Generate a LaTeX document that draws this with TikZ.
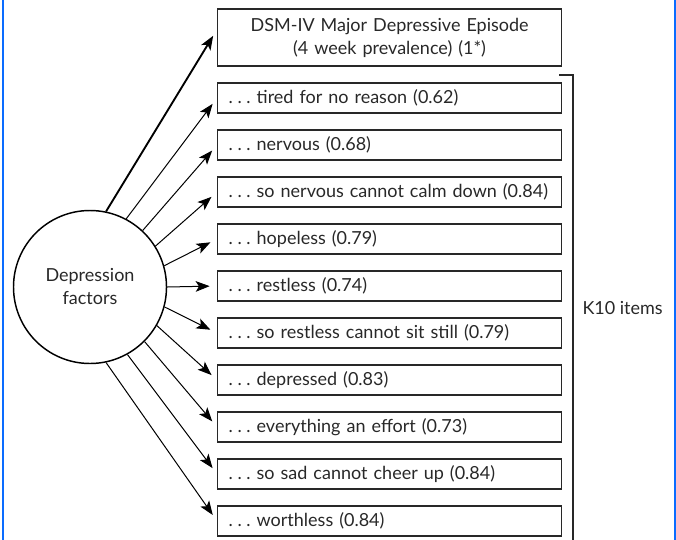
\documentclass[tikz,border=0pt]{standalone}
\usepackage{fontspec}
\setmainfont{Lato}
\usetikzlibrary{arrows.meta}
\tikzset{every picture/.style={line width=0.75pt}}
\definecolor{frameblue}{RGB}{10,108,255}
\definecolor{inkgray}{RGB}{40,40,40}
\newcommand{\lead}{.\hspace{3.5pt}.\hspace{3.5pt}.\ }
\tikzset{
  itembox/.style={draw=inkgray, line width=0.9pt, anchor=west, align=left,
    text width=241.5pt, inner xsep=8.25pt, inner ysep=0pt, minimum height=22.5pt,
    text=inkgray, font=\fontsize{13.5}{17.25}\selectfont},
  dsmbox/.style={itembox, align=center, minimum height=42.75pt},
  factor/.style={circle, draw=black, line width=1.1pt, minimum size=114.75pt,
    align=center, text=inkgray, font=\fontsize{13.5}{17.25}\selectfont},
  arr/.style={-{Stealth[length=10.5pt,width=8pt,inset=2.5pt]}, draw=black, shorten >=5.5pt}
}

\begin{document}
\begin{tikzpicture}[x=0.75pt,y=0.75pt,yscale=-1,xscale=1]
\useasboundingbox (0,0) rectangle (676,540);

%Frame lines
\draw [frameblue, line width=1.6pt] (3,0) -- (3,540) ;
\draw [frameblue, line width=1.6pt] (675,0) -- (675,540) ;

%Shape: Circle
\node [factor] (fac) at (90,287) {Depression\\factors};

%Top box
\node [dsmbox] (dsm) at (217,37.5) {DSM-IV Major Depressive Episode\\(4 week prevalence) (1*)};

%K10 boxes
\foreach \i/\t in {1/tired for no reason (0.62), 2/nervous (0.68),
    3/so nervous cannot calm down (0.84), 4/hopeless (0.79), 5/restless (0.74),
    6/so restless cannot sit still (0.79), 7/depressed (0.83),
    8/everything an effort (0.73), 9/so sad cannot cheer up (0.84),
    10/worthless (0.84)}
  \node [itembox] (it\i) at (217,{98+47*(\i-1)}) {\lead\t};

%Arrows
\draw [arr, line width=1.4pt] (fac.78) -- ([yshift=-6pt]dsm.west) ;
\foreach \i/\a in {1/62,2/47,3/32,4/16,5/0,6/-15,7/-30,8/-45,9/-61,10/-78}
  \draw [arr] (fac.\a) -- (it\i.west) ;

%Bracket
\draw [inkgray, line width=0.9pt] (559,75) -- (573,75) -- (573,540) ;

% Text Node
\node [anchor=west, inner sep=0pt, text=inkgray, font=\fontsize{13.5}{17.25}\selectfont] (k10) at (582,308) {K10 items};

\end{tikzpicture}
\end{document}
